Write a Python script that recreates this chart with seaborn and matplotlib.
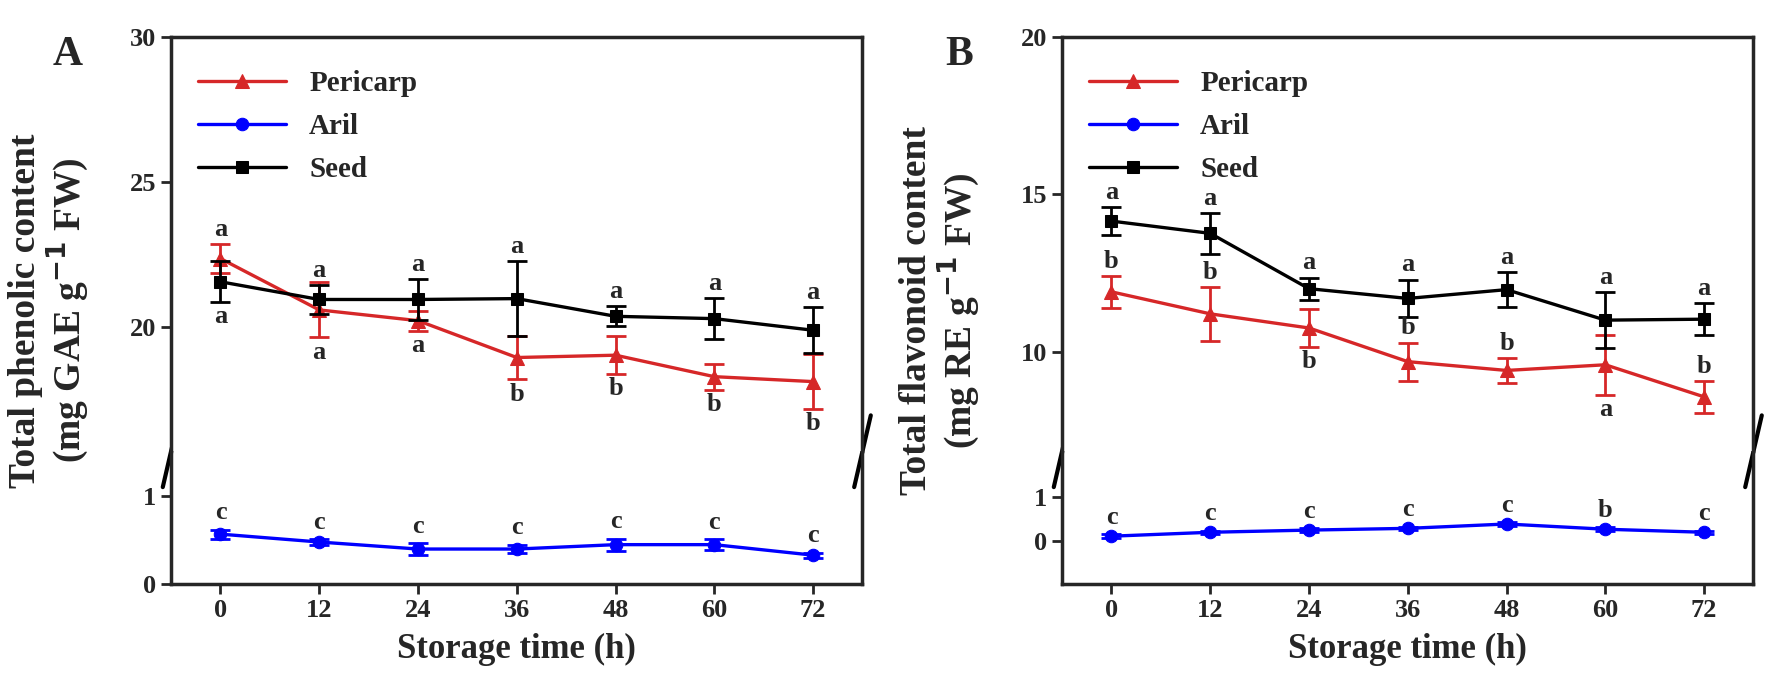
import matplotlib
matplotlib.use("Agg")
import matplotlib.pyplot as plt
import seaborn as sns
import pandas as pd
import numpy as np

sns.set_style("ticks")
plt.rcParams['font.family'] = ['Liberation Serif', 'DejaVu Serif']
plt.rcParams['font.weight'] = 'bold'
plt.rcParams['mathtext.default'] = 'bf'

time = [0, 12, 24, 36, 48, 60, 72]

# Panel A: total phenolic content
A_peri = [22.37, 20.6, 20.23, 18.96, 19.04, 18.3, 18.13]
A_peri_err = [0.5, 0.95, 0.35, 0.75, 0.65, 0.45, 0.95]
A_seed = [21.57, 20.96, 20.96, 20.99, 20.38, 20.3, 19.9]
A_seed_err = [0.7, 0.5, 0.7, 1.3, 0.35, 0.7, 0.8]
A_aril = [0.57, 0.48, 0.40, 0.40, 0.45, 0.45, 0.33]
A_aril_err = [0.05, 0.03, 0.07, 0.05, 0.07, 0.06, 0.03]
A_peri_let = ['a', 'a', 'a', 'b', 'b', 'b', 'b']
A_peri_pos = ['up', 'down', 'down', 'down', 'down', 'down', 'down']
A_seed_let = ['a'] * 7
A_seed_pos = ['down', 'up', 'up', 'up', 'up', 'up', 'up']
A_aril_let = ['c'] * 7

# Panel B: total flavonoid content
B_peri = [11.9, 11.2, 10.75, 9.68, 9.4, 9.58, 8.56]
B_peri_err = [0.5, 0.85, 0.6, 0.6, 0.4, 0.95, 0.5]
B_seed = [14.15, 13.76, 12.0, 11.69, 11.97, 11.0, 11.03]
B_seed_err = [0.45, 0.65, 0.35, 0.6, 0.55, 0.9, 0.5]
B_aril = [0.11, 0.2, 0.25, 0.29, 0.39, 0.27, 0.2]
B_aril_err = [0.04, 0.04, 0.04, 0.04, 0.05, 0.04, 0.04]
B_peri_let = ['b', 'b', 'b', 'b', 'b', 'a', 'b']
B_peri_pos = ['up', 'up', 'down', 'up', 'up', 'down', 'up']
B_seed_let = ['a'] * 7
B_seed_pos = ['up'] * 7
B_aril_let = ['c', 'c', 'c', 'c', 'c', 'b', 'c']

RED, BLUE, BLACK = '#d62728', '#0000ff', '#000000'
LW = 2.4

fig = plt.figure(figsize=(17.82, 6.88), dpi=100)

def panel(left, right, top_lim, top_ticks, bot_lim, bot_ticks, peri, perr, seed, serr,
          aril, aerr, plet, ppos, slet, spos, alet, ylabel, tag):
    bottom, top = 0.151, 0.946
    width = right - left
    h = top - bottom
    hb = h * 300 / 1235
    axb = fig.add_axes([left, bottom, width, hb])
    axt = fig.add_axes([left, bottom + hb, width, h - hb])
    for ax in (axt, axb):
        for name, vals, err, col, mk, ms in [('Pericarp', peri, perr, RED, '^', 10),
                                              ('Aril', aril, aerr, BLUE, 'o', 9),
                                              ('Seed', seed, serr, BLACK, 's', 9)]:
            df = pd.DataFrame({'t': time, 'v': vals})
            sns.lineplot(data=df, x='t', y='v', ax=ax, color=col, marker=mk,
                         markersize=ms, markeredgecolor=col, linewidth=LW, label=name)
            ax.errorbar(time, vals, yerr=err, fmt='none', ecolor=col, elinewidth=2,
                        capsize=7, capthick=2)
        ax.set_xlim(-6, 78)
        ax.set_xlabel('')
        ax.set_ylabel('')
        for s in ax.spines.values():
            s.set_linewidth(2.5)
        ax.tick_params(width=2, length=7, labelsize=19, direction='out')
    axt.set_ylim(*top_lim)
    axt.set_yticks(top_ticks)
    axb.set_ylim(*bot_lim)
    axb.set_yticks(bot_ticks)
    axt.spines['bottom'].set_visible(False)
    axb.spines['top'].set_visible(False)
    axt.tick_params(axis='x', bottom=False, labelbottom=False)
    axb.set_xticks(time)
    axb.set_xlabel('Storage time (h)', fontsize=25, fontweight='bold', labelpad=8)
    axt.legend(loc='upper left', frameon=False, fontsize=21, handlelength=3.0,
               borderaxespad=0.3, labelspacing=0.55, bbox_to_anchor=(0.01, 0.97))
    axb.get_legend().remove()
    off = 0.008 * (top_lim[1] - top_lim[0])
    for i, t in enumerate(time):
        for vals, err, let, pos in [(peri, perr, plet, ppos), (seed, serr, slet, spos)]:
            if pos[i] == 'up':
                axt.text(t, vals[i] + err[i] + off, let[i], ha='center', va='bottom',
                         fontsize=19, fontweight='bold')
            else:
                axt.text(t, vals[i] - err[i] - off, let[i], ha='center', va='top',
                         fontsize=19, fontweight='bold')
        axb.text(t, aril[i] + aerr[i] + 0.04 * (bot_lim[1] - bot_lim[0]), alet[i],
                 ha='center', va='bottom', fontsize=19, fontweight='bold')
    for x in (0, 1):
        axb.plot([x - 0.012, x + 0.012], [0.73, 1.27], transform=axb.transAxes,
                 color='black', lw=3, clip_on=False)
    fig.text(left - 0.068, bottom + h / 2, ylabel, rotation=90, ha='center', va='center',
             fontsize=27, fontweight='bold', linespacing=1.05)
    fig.text(left - 0.058, 0.905, tag, fontsize=30, fontweight='bold', ha='center')

panel(0.096, 0.484, (15.73, 30), [20, 25, 30], (0, 1.515), [0, 1],
      A_peri, A_peri_err, A_seed, A_seed_err, A_aril, A_aril_err,
      A_peri_let, A_peri_pos, A_seed_let, A_seed_pos, A_aril_let,
      'Total phenolic content\n(mg GAE g$^{-1}$ FW)', 'A')
panel(0.596, 0.984, (6.83, 20), [10, 15, 20], (-0.99, 2.06), [0, 1],
      B_peri, B_peri_err, B_seed, B_seed_err, B_aril, B_aril_err,
      B_peri_let, B_peri_pos, B_seed_let, B_seed_pos, B_aril_let,
      'Total flavonoid content\n(mg RE g$^{-1}$ FW)', 'B')

fig.savefig('out.png', dpi=100)
